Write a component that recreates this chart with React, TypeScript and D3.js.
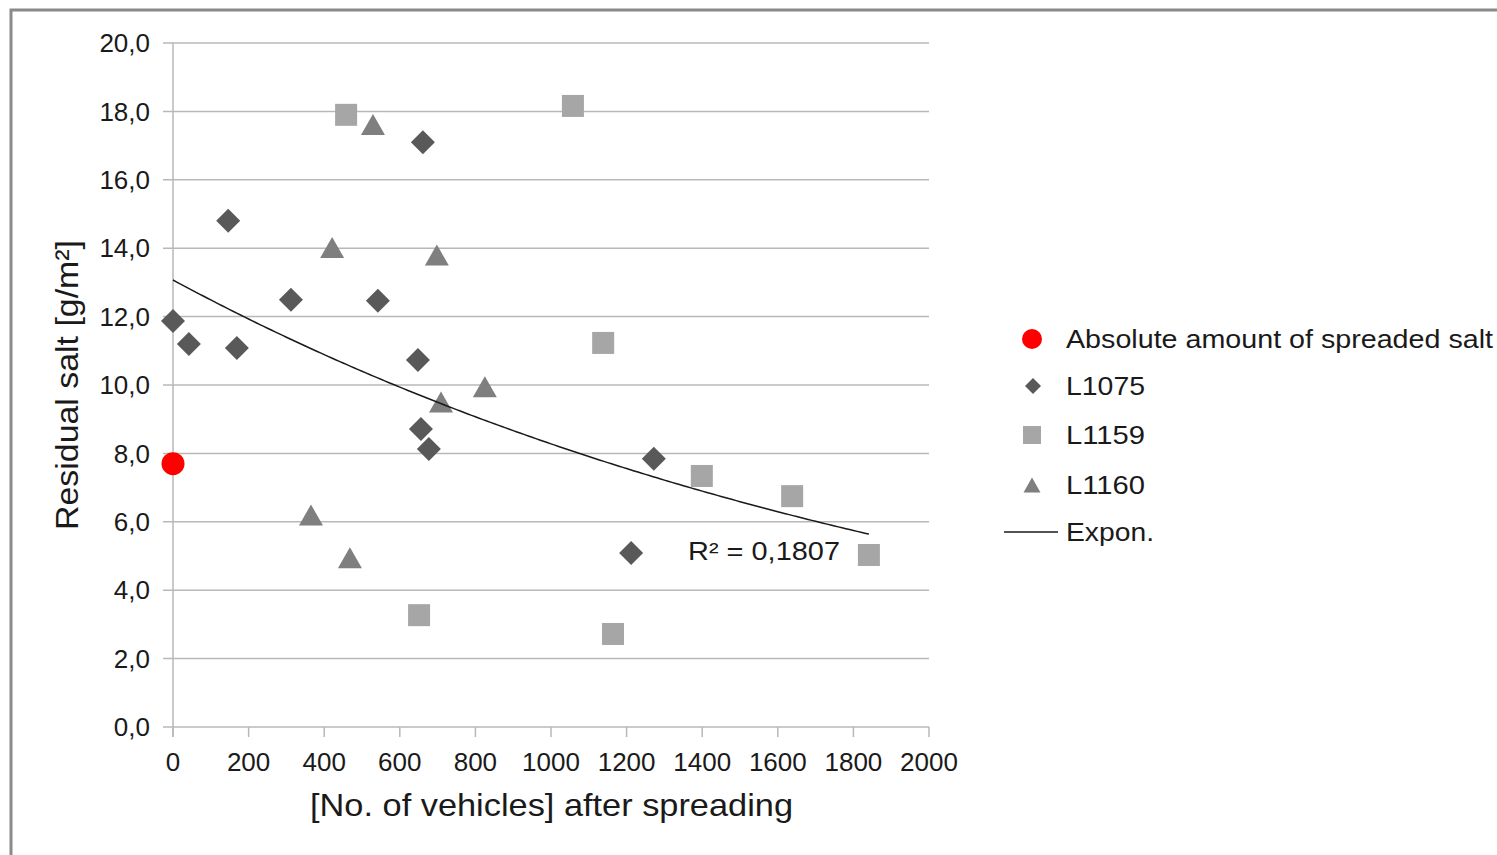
import React from "react";
import * as d3 from "d3";

const W = 1497;
const H = 855;

const yTicks = [0, 2, 4, 6, 8, 10, 12, 14, 16, 18, 20];
const xTicks = [0, 200, 400, 600, 800, 1000, 1200, 1400, 1600, 1800, 2000];

const absoluteSalt: [number, number][] = [[0, 7.7]];

const l1075: [number, number][] = [
  [0, 11.87], [42, 11.2], [146, 14.8], [169, 11.08], [312, 12.49], [542, 12.46],
  [661, 17.1], [648, 10.73], [656, 8.71], [677, 8.13], [1272, 7.84], [1212, 5.09],
];

const l1159: [number, number][] = [
  [458, 17.9], [1058, 18.16], [1138, 11.23], [651, 3.27], [1164, 2.72],
  [1399, 7.34], [1638, 6.75], [1841, 5.03],
];

const l1160: [number, number][] = [
  [529, 17.62], [421, 14.02], [698, 13.8], [825, 9.95], [709, 9.5],
  [365, 6.2], [468, 4.95],
];

// exponential trendline y = a * exp(b * x)
const trendA = 13.07;
const trendB = -0.0004566;
const trendXMax = 1841;
const rSquaredLabel = "R² = 0,1807";

const legendItems = ["Absolute amount of spreaded salt", "L1075", "L1159", "L1160", "Expon."];
const legendWidths = [427, 79, 79, 79, 88];

const FONT = "'Liberation Sans', Arial, sans-serif";
const TXT = "#1a1a1a";

export default function App() {
  const x = d3.scaleLinear().domain([0, 2000]).range([173, 929]);
  const y = d3.scaleLinear().domain([0, 20]).range([727, 43]);

  const trendPts = d3.range(0, trendXMax + 1, 10).map((v) => [v, trendA * Math.exp(trendB * v)] as [number, number]);
  trendPts.push([trendXMax, trendA * Math.exp(trendB * trendXMax)]);
  const line = d3.line<[number, number]>().x((d) => x(d[0])).y((d) => y(d[1]));

  const diamond = (cx: number, cy: number, r: number) =>
    `M${cx},${cy - r}L${cx + r},${cy}L${cx},${cy + r}L${cx - r},${cy}Z`;
  const triangle = (cx: number, cy: number, w: number, h: number) =>
    `M${cx},${cy - h / 2}L${cx + w / 2},${cy + h / 2}L${cx - w / 2},${cy + h / 2}Z`;

  const legY = [339, 386, 435, 485, 532];

  return (
    <svg width={W} height={H} style={{ position: "absolute", left: 0, top: 0, background: "#fff" }} fontFamily={FONT}>
      <rect x={0} y={0} width={W} height={H} fill="#fff" />
      <rect x={11} y={10} width={W + 20} height={H + 20} fill="none" stroke="#8a8a8a" strokeWidth={3} />
      {/* gridlines */}
      {yTicks.map((t) => (
        <line key={"g" + t} x1={163} x2={929} y1={y(t)} y2={y(t)} stroke="#b8b8b8" strokeWidth={1.5} />
      ))}
      {/* y axis */}
      <line x1={173} x2={173} y1={43} y2={737} stroke="#b8b8b8" strokeWidth={1.5} />
      {xTicks.map((t) => (
        <line key={"xt" + t} x1={x(t)} x2={x(t)} y1={727} y2={737} stroke="#b8b8b8" strokeWidth={1.5} />
      ))}
      {yTicks.map((t) => (
        <text key={"yl" + t} x={150} y={y(t)} dy="0.35em" textAnchor="end" fontSize={26} fill={TXT}>
          {t.toFixed(1).replace(".", ",")}
        </text>
      ))}
      {xTicks.map((t) => (
        <text key={"xl" + t} x={x(t)} y={771} textAnchor="middle" fontSize={26} fill={TXT}>
          {t}
        </text>
      ))}
      <text x={310} y={816} fontSize={32} fill={TXT} textLength={483} lengthAdjust="spacingAndGlyphs">
        [No. of vehicles] after spreading
      </text>
      <text transform={`translate(78,530) rotate(-90)`} fontSize={32} fill={TXT} textLength={290} lengthAdjust="spacingAndGlyphs">
        Residual salt [g/m²]
      </text>
      {/* series */}
      {l1160.map((d, i) => (
        <path key={"t" + i} d={triangle(x(d[0]), y(d[1]), 24, 21)} fill="#7f7f7f" />
      ))}
      {l1159.map((d, i) => (
        <rect key={"s" + i} x={x(d[0]) - 11} y={y(d[1]) - 11} width={22} height={22} fill="#a6a6a6" />
      ))}
      {l1075.map((d, i) => (
        <path key={"d" + i} d={diamond(x(d[0]), y(d[1]), 12)} fill="#595959" />
      ))}
      {absoluteSalt.map((d, i) => (
        <circle key={"c" + i} cx={x(d[0])} cy={y(d[1])} r={11.5} fill="#ff0000" />
      ))}
      <path d={line(trendPts) || ""} fill="none" stroke="#1a1a1a" strokeWidth={1.5} />
      <text x={688} y={560} fontSize={26} fill={TXT} textLength={152} lengthAdjust="spacingAndGlyphs">
        {rSquaredLabel}
      </text>
      {/* legend */}
      <circle cx={1032} cy={legY[0]} r={10} fill="#ff0000" />
      <path d={diamond(1033, legY[1], 8)} fill="#595959" />
      <rect x={1023} y={legY[2] - 9} width={18} height={18} fill="#a6a6a6" />
      <path d={triangle(1032, legY[3], 17, 15)} fill="#7f7f7f" />
      <line x1={1004} x2={1058} y1={legY[4]} y2={legY[4]} stroke="#1a1a1a" strokeWidth={1.5} />
      {legendItems.map((t, i) => (
        <text key={"lg" + i} x={1066} y={legY[i]} dy="0.35em" fontSize={26} fill={TXT}
          textLength={legendWidths[i]} lengthAdjust="spacingAndGlyphs">
          {t}
        </text>
      ))}
    </svg>
  );
}
